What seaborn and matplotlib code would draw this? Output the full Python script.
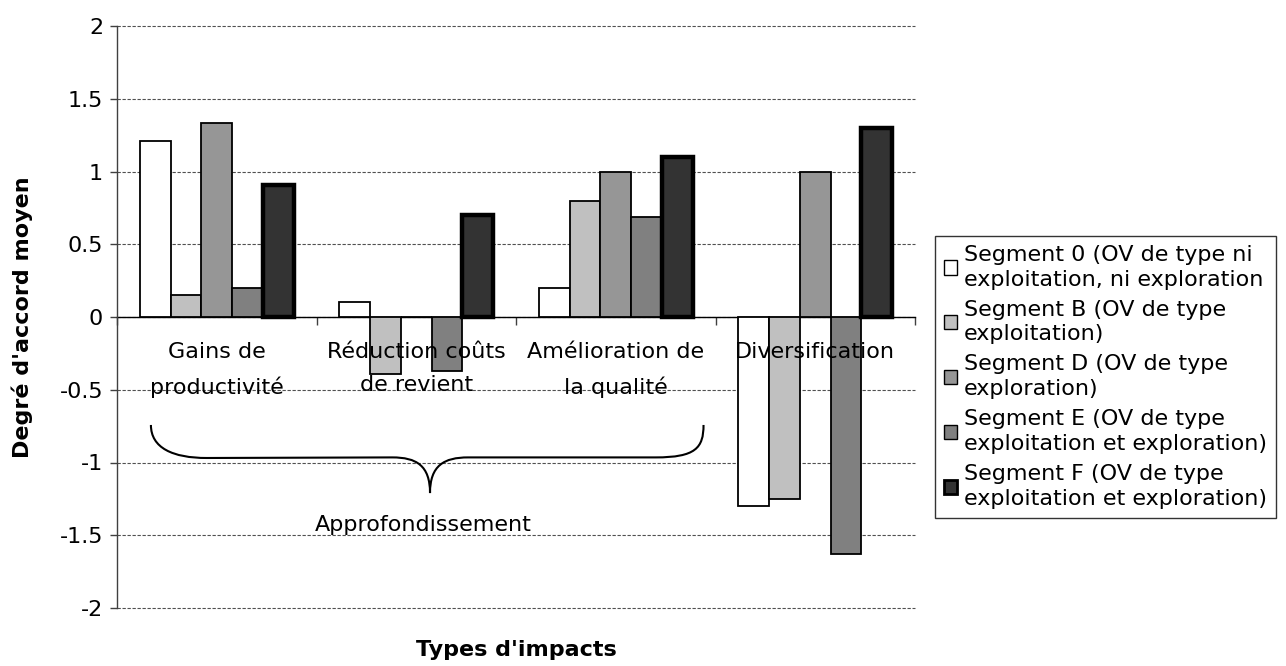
import numpy as np
import pandas as pd
import matplotlib
matplotlib.use("Agg")
import matplotlib.pyplot as plt
import seaborn as sns
from matplotlib.path import Path
from matplotlib.patches import PathPatch, Patch

# Impact categories (x axis)
categories = [
    "Gains de\nproductivité",
    "Réduction coûts\nde revient",
    "Amélioration de\nla qualité",
    "Diversification",
]

# Segment names (legend)
segments = [
    "Segment 0 (OV de type ni\nexploitation, ni exploration",
    "Segment B (OV de type\nexploitation)",
    "Segment D (OV de type\nexploration)",
    "Segment E (OV de type\nexploitation et exploration)",
    "Segment F (OV de type\nexploitation et exploration)",
]

# Mean agreement per segment, one value per category
seg_0 = [1.21, 0.10, 0.20, -1.30]
seg_b = [0.15, -0.39, 0.80, -1.25]
seg_d = [1.33, 0.00, 1.00, 1.00]
seg_e = [0.20, -0.37, 0.69, -1.63]
seg_f = [0.91, 0.70, 1.10, 1.30]

ytick_values = [-2, -1.5, -1, -0.5, 0, 0.5, 1, 1.5, 2]
ytick_labels = ["-2", "-1.5", "-1", "-0.5", "0", "0.5", "1", "1.5", "2"]

colors = ["#FFFFFF", "#C0C0C0", "#969696", "#808080", "#333333"]

FS = 16

rows = []
for seg, vals in zip(segments, [seg_0, seg_b, seg_d, seg_e, seg_f]):
    for cat, v in zip(categories, vals):
        rows.append({"categorie": cat, "segment": seg, "valeur": v})
df = pd.DataFrame(rows)

sns.set_style("white")
plt.rcParams["font.family"] = ["DejaVu Sans"]
plt.rcParams["font.size"] = FS
plt.rcParams["text.color"] = "black"
plt.rcParams["axes.labelcolor"] = "black"

fig = plt.figure(figsize=(12.86, 6.66), dpi=100)
ax = fig.add_axes([117 / 1286, 58 / 666, (915 - 117) / 1286, (608 - 26) / 666])

sns.barplot(
    data=df, x="categorie", y="valeur", hue="segment",
    order=categories, hue_order=segments, palette=colors,
    width=0.77, gap=0, saturation=1, edgecolor="black", linewidth=1.3,
    legend=False, ax=ax, zorder=2,
)
# Segment F bars get a heavier outline
for bar in ax.containers[4]:
    bar.set_linewidth(3.2)

ax.set_xlim(-0.5, 3.5)
ax.set_ylim(-2, 2)
ax.set_yticks(ytick_values)
ax.set_yticklabels(ytick_labels, fontsize=FS, color="black")
ax.yaxis.grid(True, linestyle=(0, (3, 1.5)), color="#505050", linewidth=0.8)
ax.xaxis.grid(False)
ax.set_axisbelow(True)
for gl in ax.yaxis.get_gridlines():
    gl.set_clip_on(False)

# Category axis sits on the zero line, ticks at category boundaries
ax.spines["bottom"].set_position(("data", 0))
ax.spines["bottom"].set_color("black")
ax.spines["bottom"].set_linewidth(1.0)
ax.spines["bottom"].set_zorder(1.5)
ax.spines["left"].set_color("#404040")
ax.spines["left"].set_linewidth(1.0)
ax.spines["top"].set_visible(False)
ax.spines["right"].set_visible(False)
ax.set_xticks([-0.5, 0.5, 1.5, 2.5, 3.5])
ax.set_xticklabels([])
ax.tick_params(axis="x", direction="out", length=6, width=1, color="#404040", bottom=True)
ax.tick_params(axis="y", direction="out", length=5, width=1, color="#404040", left=True, pad=5)

for i, cat in enumerate(categories):
    ax.annotate(cat, xy=(i, 0), xytext=(0, -18), textcoords="offset points",
                ha="center", va="top", fontsize=FS, linespacing=1.8, zorder=6)

# Axis titles
ax.set_ylabel("Degré d'accord moyen", fontsize=FS, fontweight="bold", color="black")
ax.set_xlabel("Types d'impacts", fontsize=FS, fontweight="bold", color="black")
ax.yaxis.label.set_va("center")
ax.yaxis.set_label_coords((22 - 117) / 798, 0.5)
ax.xaxis.label.set_va("center")
ax.xaxis.set_label_coords(0.5, (608 - 650) / 582)

# Curly brace grouping the first three categories
verts = [
    (-0.33, -0.742),
    (-0.33, -0.90), (-0.22, -0.969), (-0.05, -0.969),
    (0.88, -0.965),
    (1.00, -0.965), (1.069, -1.02), (1.069, -1.21),
    (1.069, -1.02), (1.14, -0.965), (1.26, -0.965),
    (2.20, -0.965),
    (2.40, -0.965), (2.44, -0.90), (2.44, -0.742),
]
codes = [Path.MOVETO,
         Path.CURVE4, Path.CURVE4, Path.CURVE4,
         Path.LINETO,
         Path.CURVE4, Path.CURVE4, Path.CURVE4,
         Path.CURVE4, Path.CURVE4, Path.CURVE4,
         Path.LINETO,
         Path.CURVE4, Path.CURVE4, Path.CURVE4]
ax.add_patch(PathPatch(Path(verts, codes), facecolor="none", edgecolor="black",
                       linewidth=1.5, zorder=5, clip_on=False))
ax.text(1.034, -1.43, "Approfondissement", ha="center", va="center", fontsize=FS, zorder=6)

handles = []
for i, c in enumerate(colors):
    handles.append(Patch(facecolor=c, edgecolor="black", linewidth=2.0 if i == 4 else 1.0))
leg = fig.legend(
    handles, segments, loc="upper left",
    bbox_to_anchor=(935 / 1286, 1 - 236 / 666), bbox_transform=fig.transFigure,
    fontsize=FS, frameon=True, fancybox=False, shadow=False,
    handlelength=0.6, handleheight=0.6, handletextpad=0.3,
    labelspacing=0.45, borderpad=0.4, borderaxespad=0,
)
leg.get_frame().set_edgecolor("black")
leg.get_frame().set_linewidth(1.0)
for t in leg.get_texts():
    t.set_linespacing(1.3)
    t.set_color("black")

fig.savefig("out.png", dpi=100, facecolor="white")
